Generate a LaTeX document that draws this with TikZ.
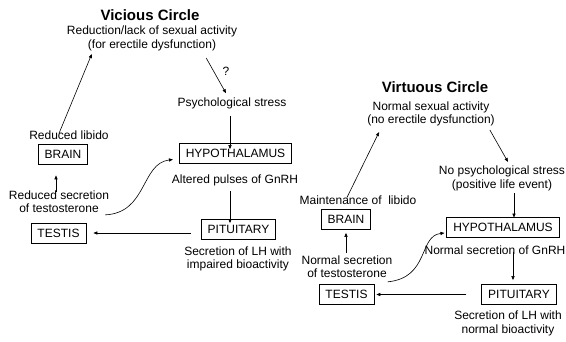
\documentclass[tikz,border=0pt]{standalone}
\usepackage{fontspec}
\setmainfont{Liberation Sans}
\usepackage{tikz}
\usetikzlibrary{arrows.meta}

\begin{document}
\begin{tikzpicture}[
  x=1pt,y=-1pt,
  every node/.style={font=\fontsize{12}{13.5}\selectfont},
  lbl/.style={align=center,inner sep=1pt},
  ttl/.style={font=\fontsize{15}{17}\selectfont\bfseries,inner sep=0pt},
  bx/.style={draw,line width=0.8pt,inner xsep=6.5pt,inner ysep=0pt,minimum height=20pt},
  arrow/.style={-{Triangle[length=4pt,width=3.2pt]},line width=0.6pt}
]
\useasboundingbox (0,0) rectangle (566,341);
% vicious circle
\node[ttl] (titleL) at (150,15) {Vicious Circle};
\node[lbl] (actL) at (152,38.5) {Reduction/lack of sexual activity\\(for erectile dysfunction)};
\node[lbl] (qL) at (226,71) {?};
\node[lbl] (stressL) at (232,103) {Psychological stress};
\node[bx] (hypoL) at (235.5,153.5) {HYPOTHALAMUS};
\node[lbl] (gnrhL) at (235,180) {Altered pulses of GnRH};
\node[bx] (pitL) at (238.5,229.5) {PITUITARY};
\node[lbl] (lhL) at (238,259) {Secretion of LH with\\impaired bioactivity};
\node[bx] (testisL) at (58.5,233) {TESTIS};
\node[bx] (brainL) at (63,154) {BRAIN};
\node[lbl] (libL) at (69,135) {Reduced libido};
\node[lbl] (secL) at (59,201.5) {Reduced secretion\\of testosterone};
\draw[arrow] ([shift={(-10,4)}]libL.north) -- ([shift={(26,2)}]actL.south west);
\draw[arrow] ([shift={(-32,6)}]actL.south east) -- ([shift={(-6,-3)}]stressL.north);
\draw[arrow] ([shift={(-2,6)}]stressL.south) -- ([shift={(-2,6)}]stressL.south |- hypoL.north);
\draw[arrow] ([shift={(-5,4)}]gnrhL.south) -- ([shift={(-5,4)}]gnrhL.south |- pitL.north);
\draw[arrow] ([xshift=-10pt]pitL.west |- testisL.east) -- ([xshift=7pt]testisL.east);
\draw[arrow,shorten >=8pt] ([shift={(-3,3)}]secL.north) -- ([shift={(-3,3)}]secL.north |- brainL.south);
\draw[arrow] ([shift={(-5,1)}]secL.south east) .. controls +(42,-2) and +(-32,4) .. ([shift={(-6,6)}]hypoL.west);
% virtuous circle
\node[ttl] (titleR) at (435,87) {Virtuous Circle};
\node[lbl] (actR) at (431,114) {Normal sexual activity\\(no erectile dysfunction)};
\node[lbl] (stressR) at (502,178.5) {No psychological stress\\(positive life event)};
\node[bx] (hypoR) at (503,227) {HYPOTHALAMUS};
\node[lbl] (gnrhR) at (495,250) {Normal secretion of GnRH};
\node[bx] (pitR) at (519,294.5) {PITUITARY};
\node[lbl] (lhR) at (508,323.5) {Secretion of LH with\\normal bioactivity};
\node[bx] (testisR) at (346.5,294.5) {TESTIS};
\node[bx] (brainR) at (346,219.5) {BRAIN};
\node[lbl] (libR) at (358,200) {Maintenance of \ libido};
\node[lbl] (secR) at (347,266.5) {Normal secretion\\of testosterone};
\draw[arrow] ([shift={(-11,3)}]libR.north) -- ([shift={(13,4.5)}]actR.south west);
\draw[arrow] ([shift={(-6,2.5)}]actR.south east) -- ([shift={(6,-3)}]stressR.north);
\draw[arrow] ([shift={(12,1)}]stressR.south) -- ([shift={(12,1)}]stressR.south |- hypoR.north);
\draw[arrow] ([shift={(18,-4)}]gnrhR.south) -- ([shift={(18,-4)}]gnrhR.south |- pitR.north);
\draw[arrow] ([xshift=-15pt]pitR.west) -- ([xshift=2pt]testisR.east);
\draw[arrow,shorten >=4pt] ([shift={(-1,-1)}]secR.north) -- ([shift={(-1,-1)}]secR.north |- brainR.south);
\draw[arrow] ([shift={(-6,3)}]secR.south east) .. controls +(42,-4) and +(-26,3) .. ([shift={(-2,6)}]hypoR.west);
\end{tikzpicture}
\end{document}
